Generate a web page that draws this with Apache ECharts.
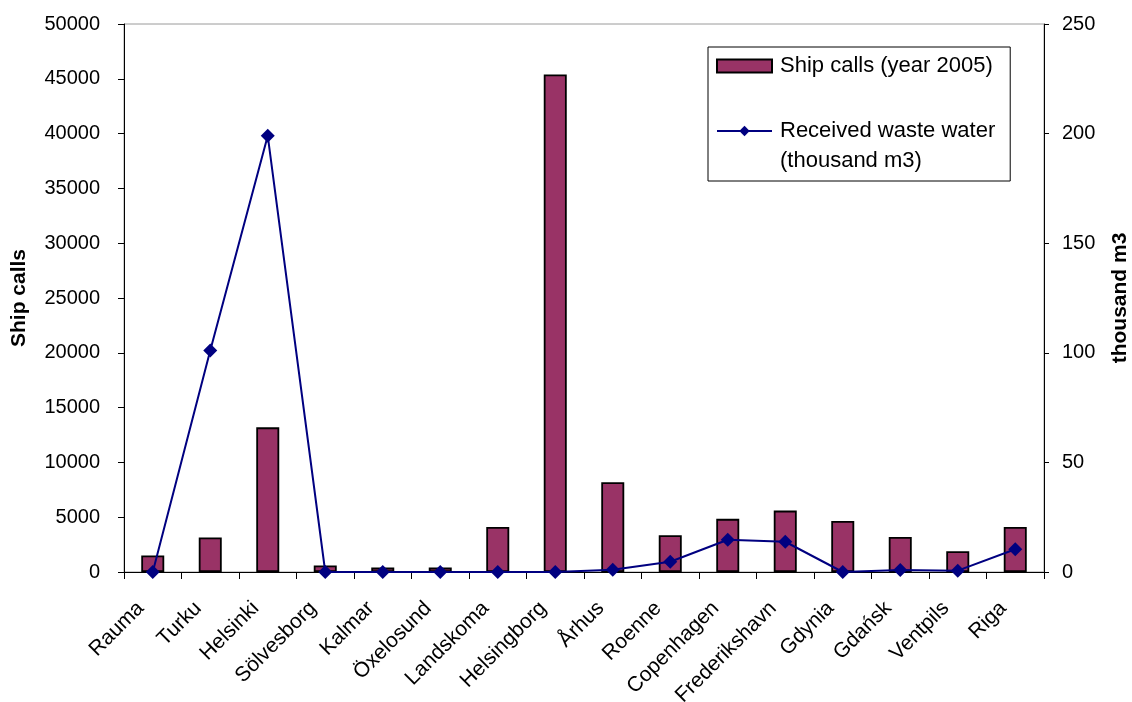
<!DOCTYPE html>
<html>
<head>
<meta charset="utf-8">
<title>Ship calls and received waste water</title>
<script src="https://cdn.jsdelivr.net/npm/echarts@6/dist/echarts.min.js"></script>
<style>
  html, body { margin: 0; padding: 0; background: #fff; }
  #chart { width: 1132px; height: 702px; }
</style>
</head>
<body>
<div id="chart"></div>
<script>
// Ports along the Baltic Sea
const ports = ['Rauma', 'Turku', 'Helsinki', 'Sölvesborg', 'Kalmar', 'Öxelosund', 'Landskoma',
  'Helsingborg', 'Århus', 'Roenne', 'Copenhagen', 'Frederikshavn', 'Gdynia', 'Gdańsk',
  'Ventpils', 'Riga'];

// Ship calls per port, year 2005
const shipCalls = [1500, 3150, 13200, 600, 400, 400, 4100, 45400, 8200, 3350, 4850, 5600,
  4650, 3200, 1900, 4100];

// Received waste water, thousand m3
const wasteWater = [0, 101, 199, 0, 0, 0, 0, 0, 1, 4.7, 14.7, 13.8, 0, 0.9, 0.6, 10.4];

const shipCallsName = 'Ship calls (year 2005)';
const wasteWaterName = 'Received waste water\n(thousand m3)';

const font = 'Liberation Sans, Arial, sans-serif';

const chart = echarts.init(document.getElementById('chart'), null, { renderer: 'canvas' });

chart.setOption({
  backgroundColor: '#fff',
  animation: false,
  textStyle: { fontFamily: font, color: '#000' },
  grid: {
    left: 124, right: 88, top: 24, bottom: 130,
    outerBoundsMode: 'none',
    show: true, borderColor: '#9a9a9a', borderWidth: 1, backgroundColor: 'transparent'
  },
  legend: {
    left: 708, top: 47,
    orient: 'vertical',
    itemWidth: 55, itemHeight: 13, itemGap: 5,
    padding: [4, 15, 5, 8],
    borderColor: '#000', borderWidth: 1,
    textStyle: { fontFamily: font, fontSize: 22, lineHeight: 30, color: '#000', padding: [0, 0, 0, 3] },
    // an empty leading line keeps the first text line level with the line marker
    formatter: name => (name === wasteWaterName ? '\n' + name : name),
    data: [
      { name: shipCallsName, icon: 'rect' },
      { name: wasteWaterName }
    ]
  },
  xAxis: {
    type: 'category',
    data: ports,
    boundaryGap: true,
    axisLine: { lineStyle: { color: '#000', width: 1 } },
    axisTick: { show: true, length: 7, lineStyle: { color: '#000' } },
    axisLabel: {
      rotate: 45, margin: 21, fontSize: 21, color: '#000', fontFamily: font, interval: 0,
      padding: [0, 17, 0, 0]
    },
    splitLine: { show: false }
  },
  yAxis: [
    {
      type: 'value',
      min: 0, max: 50000, interval: 5000,
      name: 'Ship calls',
      nameLocation: 'middle',
      nameGap: 94,
      nameRotate: 90,
      nameTextStyle: { fontFamily: font, fontSize: 21, fontWeight: 'bold', color: '#000' },
      axisLine: { show: true, lineStyle: { color: '#000', width: 1 } },
      axisTick: { show: true, length: 6, lineStyle: { color: '#000' } },
      axisLabel: { fontSize: 20, color: '#000', fontFamily: font, margin: 24, formatter: v => String(v) },
      splitLine: { show: false }
    },
    {
      type: 'value',
      min: 0, max: 250, interval: 50,
      name: 'thousand m3',
      nameLocation: 'middle',
      nameGap: 66,
      nameRotate: 90,
      nameTextStyle: { fontFamily: font, fontSize: 21, fontWeight: 'bold', color: '#000' },
      axisLine: { show: true, lineStyle: { color: '#000', width: 1 } },
      axisTick: { show: true, length: 5, lineStyle: { color: '#000' } },
      axisLabel: { fontSize: 20, color: '#000', fontFamily: font, margin: 18, formatter: v => String(v) },
      splitLine: { show: false }
    }
  ],
  series: [
    {
      name: shipCallsName,
      type: 'bar',
      yAxisIndex: 0,
      data: shipCalls,
      barWidth: 23,
      itemStyle: { color: '#993366', borderColor: '#000', borderWidth: 1.8 },
      z: 2
    },
    {
      name: wasteWaterName,
      type: 'line',
      yAxisIndex: 1,
      data: wasteWater,
      symbol: 'diamond',
      symbolSize: 14,
      showSymbol: true,
      lineStyle: { color: '#000080', width: 2 },
      itemStyle: { color: '#000080' },
      z: 3
    }
  ]
});
</script>
</body>
</html>
